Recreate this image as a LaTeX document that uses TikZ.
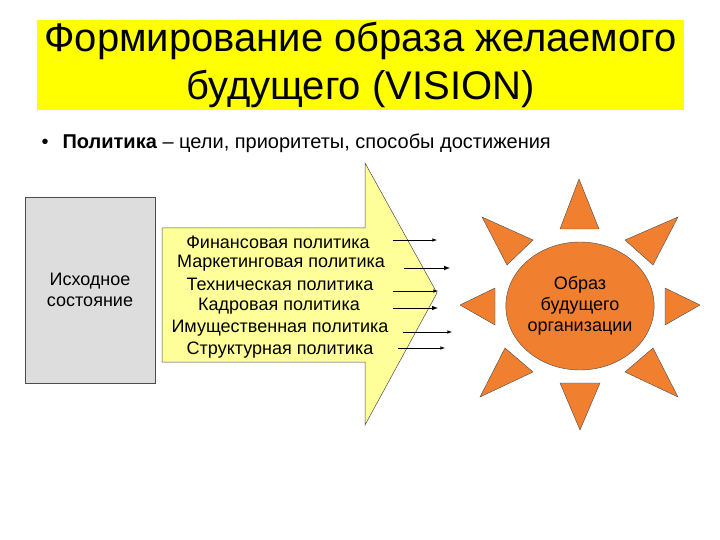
\documentclass[tikz,border=0pt]{standalone}
\usepackage{fontspec}
\setmainfont{Liberation Sans}
\usetikzlibrary{shapes.geometric}
\definecolor{ttl}{RGB}{255,255,0}
\definecolor{arr}{RGB}{255,255,153}
\definecolor{sun}{RGB}{240,128,48}
\definecolor{gbox}{RGB}{221,221,221}
\begin{document}
\begin{tikzpicture}[x=1pt,y=-1pt,
  pol/.style={font=\fontsize{18}{20}\selectfont,anchor=center,inner sep=0pt},
  ray/.style={fill=sun,draw=black!70,line width=0.4pt},
  pa/.style={-latex,line width=0.6pt}]
\useasboundingbox (0,0) rectangle (720,540);
\fill[white] (0,0) rectangle (720,540);
\node[fill=ttl,minimum width=647pt,minimum height=90pt,inner sep=0pt,align=center,font=\fontsize{40}{48}\selectfont] (title) at (360.5,65) {Формирование образа желаемого\\будущего (VISION)};
\node[anchor=west,font=\fontsize{20}{22}\selectfont] (bul) at (38,143) {•\hspace{14pt}\textbf{Политика} – цели, приоритеты, способы достижения};
\node[draw=black!70,fill=gbox,minimum width=130pt,minimum height=186pt,inner sep=0pt,align=center,font=\fontsize{18}{21}\selectfont] (init) at (90,290) {Исходное\\состояние};
\draw[fill=arr,draw=black!70,line width=0.5pt] (162,228) -- (365,228) -- (365,163) -- (437,293) -- (365,425) -- (365,362) -- (162,362) -- cycle;
\node[pol] (p1) at (278,242) {Финансовая политика};
\node[pol] (p2) at (281,263) {Маркетинговая политика};
\node[pol] (p3) at (280,284) {Техническая политика};
\node[pol] (p4) at (279,306) {Кадровая политика};
\node[pol] (p5) at (280,328) {Имущественная политика};
\node[pol] (p6) at (280,350) {Структурная политика};
\coordinate (a1s) at (393,240); \coordinate (a1e) at (437,240);
\coordinate (a2s) at (404,268); \coordinate (a2e) at (450,268);
\coordinate (a3s) at (393,291); \coordinate (a3e) at (438,291);
\coordinate (a4s) at (393,308); \coordinate (a4e) at (438,308);
\coordinate (a5s) at (403,332); \coordinate (a5e) at (452,332);
\coordinate (a6s) at (398,348); \coordinate (a6e) at (445,348);
\draw[pa] (a1s) -- (a1e);
\draw[pa,line width=1pt] (a2s) -- (a2e);
\draw[pa] (a3s) -- (a3e);
\draw[pa,line width=1pt] (a4s) -- (a4e);
\draw[pa] (a5s) -- (a5e);
\draw[pa] (a6s) -- (a6e);
\draw[ray] (560,229) -- (579,179) -- (599,229) -- cycle;
\draw[ray] (560,383) -- (580,430) -- (600,383) -- cycle;
\draw[ray] (495,288) -- (460,305) -- (495,325) -- cycle;
\draw[ray] (665,288) -- (700,305) -- (665,325) -- cycle;
\draw[ray] (482,217) -- (533,240) -- (507,265) -- cycle;
\draw[ray] (678,217) -- (625,240) -- (653,265) -- cycle;
\draw[ray] (505,348) -- (533,372) -- (480,397) -- cycle;
\draw[ray] (653,348) -- (625,372) -- (678,397) -- cycle;
\node[ellipse,draw=black!70,fill=sun,minimum width=140pt,minimum height=128pt,inner sep=0pt,align=center,font=\fontsize{18}{21}\selectfont] (img) at (580,306) {Образ\\будущего\\организации};
\end{tikzpicture}
\end{document}
